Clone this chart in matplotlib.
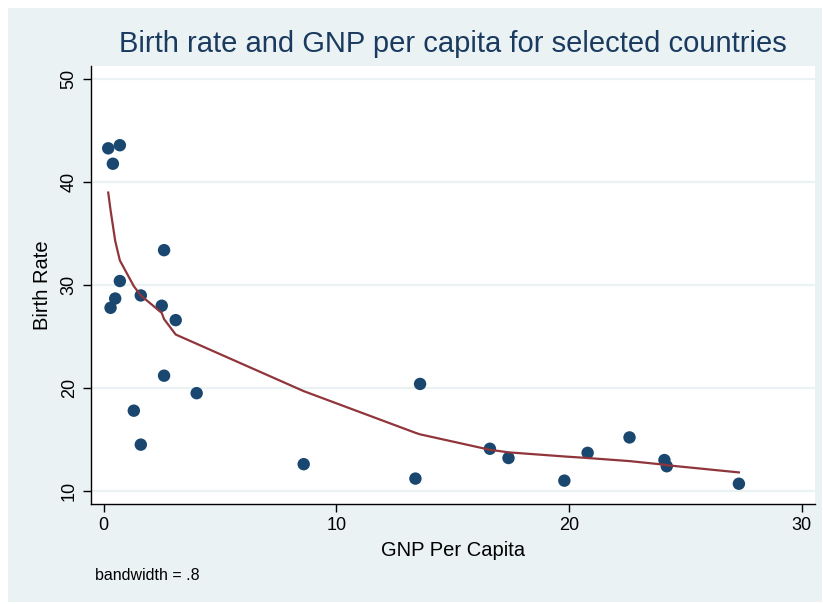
import matplotlib
matplotlib.use("Agg")
import matplotlib.pyplot as plt
from matplotlib.patches import Rectangle

plt.rcParams['font.family'] = ['Liberation Sans', 'DejaVu Sans']

# GNP per capita (thousands) and birth rate per country
gnp = [0.2, 0.7, 0.4, 2.6, 0.7, 0.5, 0.3, 1.6, 2.5, 3.1,
       2.6, 4.0, 1.3, 1.6, 8.6, 13.6, 13.4, 16.6, 17.4, 19.8,
       20.8, 22.6, 24.1, 24.2, 27.3]
birth = [43.3, 43.6, 41.8, 33.4, 30.4, 28.7, 27.8, 29.0, 28.0, 26.6,
         21.2, 19.5, 17.8, 14.5, 12.6, 20.4, 11.2, 14.1, 13.2, 11.0,
         13.7, 15.2, 13.0, 12.4, 10.7]

# lowess smooth (bandwidth .8), evaluated at the sorted gnp values
fit_x = [0.2, 0.3, 0.4, 0.5, 0.7, 0.7, 1.3, 1.6, 1.6, 2.5, 2.6, 2.6, 3.1,
         4.0, 8.6, 13.4, 13.6, 16.6, 17.4, 19.8, 20.8, 22.6, 24.1, 24.2, 27.3]
fit_y = [39.0, 37.3, 35.8, 34.3, 32.4, 32.4, 29.9, 29.0, 29.0, 27.3, 26.7, 26.7, 25.2,
         24.3, 19.7, 15.65, 15.5, 14.0, 13.75, 13.35, 13.2, 12.9, 12.55, 12.5, 11.8]

yticks = [10, 20, 30, 40, 50]
xticks = [0, 10, 20, 30]

navy = '#1a476f'
maroon = '#90353b'
bg = '#eaf2f3'

W, H = 823, 604
fig = plt.figure(figsize=(W / 100, H / 100), dpi=100)
fig.patch.set_facecolor('white')
fig.patches.append(Rectangle((8 / W, 2 / H), 814 / W, 594 / H,
                             transform=fig.transFigure, facecolor=bg,
                             edgecolor='none', zorder=-10))

ax = fig.add_axes([91 / W, 1 - 504 / H, 724 / W, 438 / H])
ax.set_facecolor('white')
ax.set_xlim(-0.54, 30.57)
ax.set_ylim(8.73, 51.3)

for yv in yticks:
    ax.axhline(yv, color=bg, lw=1.6, zorder=1)

ax.scatter(gnp, birth, s=80, color=navy, edgecolors='none', zorder=3)
ax.plot(fit_x, fit_y, color=maroon, lw=1.6, zorder=4)

for side in ['top', 'right']:
    ax.spines[side].set_visible(False)
for side in ['left', 'bottom']:
    ax.spines[side].set_color('black')
    ax.spines[side].set_linewidth(1.0)

ax.set_yticks(yticks)
ax.set_xticks(xticks)
ax.tick_params(axis='both', direction='out', length=6, width=1.0,
               labelsize=13, colors='black')
ax.set_yticklabels([str(v) for v in yticks], rotation=90, va='center')

ax.set_xlabel('GNP Per Capita', fontsize=14.5, labelpad=5)
ax.set_ylabel('Birth Rate', fontsize=14.5, labelpad=6)

fig.text(453 / W, 1 - 44 / H, 'Birth rate and GNP per capita for selected countries',
         ha='center', va='center', fontsize=21, color='#1a3a5f')
fig.text(95 / W, 1 - 576 / H, 'bandwidth = .8', ha='left', va='center',
         fontsize=11.5, color='black')

fig.savefig('out.png', dpi=100)
